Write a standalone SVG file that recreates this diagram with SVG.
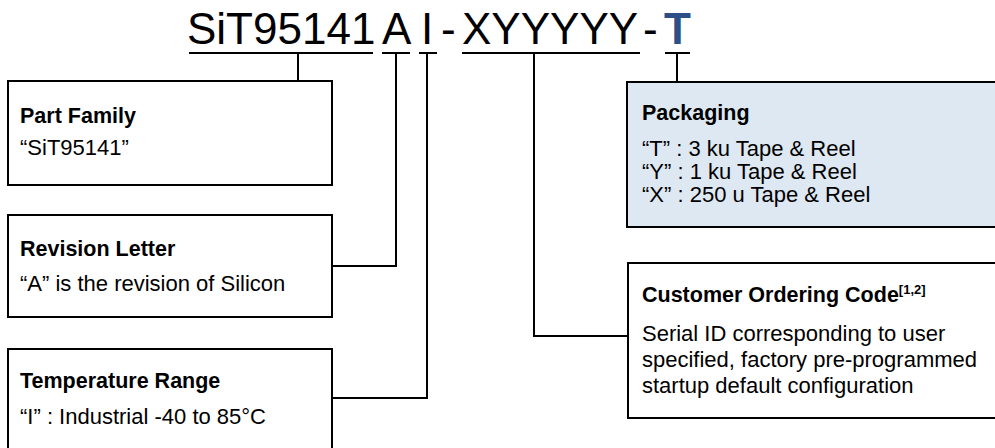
<svg xmlns="http://www.w3.org/2000/svg" width="995" height="448" viewBox="0 0 995 448">
<style>
.t{font-family:"Liberation Sans",Arial,sans-serif;font-size:44px;fill:#000}
.h{font-family:"Liberation Sans",Arial,sans-serif;font-size:21.5px;font-weight:bold;fill:#000}
.b{font-family:"Liberation Sans",Arial,sans-serif;font-size:22px;fill:#000}
.box{fill:#fff;stroke:#000;stroke-width:2}
.bluebox{fill:#dde8f3;stroke:#000;stroke-width:2}
.ln{fill:none;stroke:#000;stroke-width:2}
</style>
<rect width="995" height="448" fill="#fff"/>
<g id="title">
<text class="t" x="187" y="44">SiT95141</text>
<text class="t" x="382" y="44">A</text>
<text class="t" x="421" y="44">I</text>
<text class="t" x="441" y="44">-</text>
<text class="t" x="462" y="44">XYYYYY</text>
<text class="t" x="643" y="44">-</text>
<text class="t" x="664" y="44" style="fill:#2b4f86;font-weight:bold">T</text>
</g>
<g id="connectors">
<path class="ln" d="M189,53H373M298,53V81"/>
<path class="ln" d="M382,53H410M396,53V266H332"/>
<path class="ln" d="M419,53H437M427,53V398H332"/>
<path class="ln" d="M462,53H640M534,53V336H628"/>
<path class="ln" d="M665,53H690M677,53V82"/>
</g>
<g id="part-family">
<rect class="box" x="8" y="81" width="324" height="104"/>
<text class="h" x="20" y="123">Part Family</text>
<text class="b" x="20" y="155">“SiT95141”</text>
</g>
<g id="revision-letter">
<rect class="box" x="8" y="215" width="324" height="102"/>
<text class="h" x="20" y="256">Revision Letter</text>
<text class="b" x="20" y="291">“A” is the revision of Silicon</text>
</g>
<g id="temperature-range">
<rect class="box" x="8" y="349" width="324" height="110"/>
<text class="h" x="20" y="388">Temperature Range</text>
<text class="b" x="20" y="424">“I” : Industrial -40 to 85°C</text>
</g>
<g id="packaging">
<rect class="bluebox" x="627" y="82" width="370" height="145"/>
<text class="h" x="642" y="120">Packaging</text>
<text class="b" x="642" y="156">“T” : 3 ku Tape &amp; Reel</text>
<text class="b" x="642" y="179">“Y” : 1 ku Tape &amp; Reel</text>
<text class="b" x="642" y="202">“X” : 250 u Tape &amp; Reel</text>
</g>
<g id="customer-ordering-code">
<rect class="box" x="628" y="263" width="370" height="155"/>
<text class="h" x="642" y="302">Customer Ordering Code<tspan font-size="13" dy="-8">[1,2]</tspan></text>
<text class="b" x="642" y="341">Serial ID corresponding to user</text>
<text class="b" x="642" y="367">specified, factory pre-programmed</text>
<text class="b" x="642" y="393">startup default configuration</text>
</g>
</svg>
